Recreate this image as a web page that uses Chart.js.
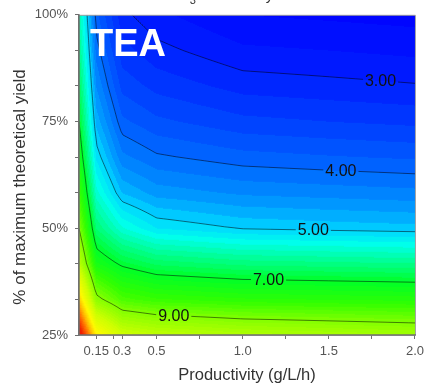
<!DOCTYPE html>
<html>
<head>
<meta charset="utf-8">
<script src="https://cdn.jsdelivr.net/npm/chart.js@4.4.1/dist/chart.umd.min.js"></script>
<style>
  html, body { margin: 0; padding: 0; background: #fff; }
</style>
</head>
<body>
<canvas id="teaChart" width="429" height="387"></canvas>
<script>
// grid nodes
const productivity = [0.05, 0.15, 0.3, 0.5, 1.0, 1.5, 2.0];
const yieldPct = [25, 33.33, 41.67, 50, 58.33, 66.67, 75, 83.33, 91.67, 100];

// cost, one row per yield node (low -> high)
const cost25 = [16.0, 12.2, 10.6, 10.27, 9.95, 9.80, 9.65];
const cost33 = [12.8, 9.24, 8.31, 8.04, 7.85, 7.79, 7.73];
const cost42 = [10.2, 7.47, 6.90, 6.55, 6.34, 6.28, 6.22];
const cost50 = [9.0, 6.40, 5.63, 5.20, 4.98, 4.92, 4.87];
const cost58 = [8.14, 5.69, 4.79, 4.51, 4.36, 4.31, 4.26];
const cost67 = [7.5, 5.16, 4.26, 4.04, 3.88, 3.82, 3.77];
const cost75 = [7.0, 4.73, 3.85, 3.65, 3.46, 3.40, 3.35];
const cost83 = [6.6, 4.39, 3.53, 3.33, 3.12, 3.07, 3.02];
const cost92 = [6.27, 4.11, 3.28, 3.07, 2.84, 2.80, 2.75];
const cost100 = [6.0, 3.87, 3.06, 2.85, 2.60, 2.56, 2.52];
const costRows = [cost25, cost33, cost42, cost50, cost58, cost67, cost75, cost83, cost92, cost100];

const contourLevels = [3, 4, 5, 7, 9];
const labelProductivity = [1.8, 1.57, 1.41, 1.15, 0.6];

const xTickValues = [0.15, 0.25, 0.3, 0.5, 0.75, 1.0, 1.25, 1.5, 1.75, 2.0];
const xTickLabels = ['0.15', '', '0.3', '0.5', '', '1.0', '', '1.5', '', '2.0'];
const yTickLabels = ['25%', '', '', '50%', '', '', '75%', '', '', '100%'];

// colour map: value, r, g, b
const colorStops = [
    [2.4, 0, 0, 255],
    [3.0, 0, 30, 255],
    [4.0, 0, 105, 255],
    [4.6, 0, 160, 255],
    [5.0, 0, 215, 255],
    [5.5, 0, 255, 235],
    [6.2, 0, 255, 140],
    [7.0, 0, 255, 40],
    [8.0, 50, 255, 0],
    [9.0, 130, 255, 0],
    [10.5, 205, 255, 0],
    [12, 255, 250, 0],
    [13, 255, 190, 0],
    [14, 255, 110, 0],
    [15.2, 240, 30, 0]
];
const bandStep = 0.2;
const fontFamily = '"Liberation Sans", Arial, sans-serif';

function findCell(nodes, v) {
    let i = 0;
    while (i < nodes.length - 2 && v > nodes[i + 1]) i++;
    const t = (v - nodes[i]) / (nodes[i + 1] - nodes[i]);
    return [i, Math.max(0, Math.min(1, t))];
}

function costAt(p, y) {
    const [i, tx] = findCell(productivity, p);
    const [j, ty] = findCell(yieldPct, y);
    const a = costRows[j][i], b = costRows[j][i + 1];
    const c = costRows[j + 1][i], d = costRows[j + 1][i + 1];
    return (a * (1 - tx) + b * tx) * (1 - ty) + (c * (1 - tx) + d * tx) * ty;
}

function colorFor(v) {
    const q = (Math.floor(v / bandStep) + 0.5) * bandStep;
    if (q <= colorStops[0][0]) return colorStops[0].slice(1);
    for (let k = 1; k < colorStops.length; k++) {
        if (q <= colorStops[k][0]) {
            const s0 = colorStops[k - 1], s1 = colorStops[k];
            const t = (q - s0[0]) / (s1[0] - s0[0]);
            return [1, 2, 3].map(n => s0[n] + (s1[n] - s0[n]) * t);
        }
    }
    return colorStops[colorStops.length - 1].slice(1);
}

const contourPlugin = {
    id: 'contourFill',
    beforeDatasetsDraw(chart) {
        const { ctx, chartArea: area, scales: { x, y } } = chart;
        const w = Math.round(area.right - area.left);
        const h = Math.round(area.bottom - area.top);

        // filled bands
        const off = document.createElement('canvas');
        off.width = w; off.height = h;
        const octx = off.getContext('2d');
        const img = octx.createImageData(w, h);
        const colP = [], rowY = [];
        for (let i = 0; i < w; i++) colP.push(x.getValueForPixel(area.left + i + 0.5));
        for (let j = 0; j < h; j++) rowY.push(y.getValueForPixel(area.top + j + 0.5));
        for (let j = 0; j < h; j++) {
            for (let i = 0; i < w; i++) {
                const [r, g, b] = colorFor(costAt(colP[i], rowY[j]));
                const idx = (j * w + i) * 4;
                img.data[idx] = r; img.data[idx + 1] = g; img.data[idx + 2] = b; img.data[idx + 3] = 255;
            }
        }
        octx.putImageData(img, 0, 0);
        ctx.drawImage(off, area.left, area.top, w, h);

        // label positions
        ctx.save();
        ctx.font = '16px ' + fontFamily;
        const labels = contourLevels.map((lv, k) => {
            const p = labelProductivity[k];
            let yv = 25;
            for (let t = 25; t <= 100; t += 0.02) {
                if (costAt(p, t) <= lv) { yv = t; break; }
            }
            const text = lv.toFixed(2);
            const px = x.getPixelForValue(p), py = y.getPixelForValue(yv);
            const tw = ctx.measureText(text).width;
            return { text, px, py, box: [px - tw / 2 - 2, py - 8, tw + 4, 16] };
        });

        // contour lines, kept out of the label boxes
        ctx.beginPath();
        ctx.rect(area.left, area.top, w, h);
        labels.forEach(l => ctx.rect(...l.box));
        ctx.clip('evenodd');

        const step = 2;
        const gx = [], gy = [];
        for (let i = 0; i * step < w; i++) gx.push(area.left + i * step);
        gx.push(area.left + w);
        for (let j = 0; j * step < h; j++) gy.push(area.top + j * step);
        gy.push(area.top + h);
        const gp = gx.map(px => x.getValueForPixel(px));
        const vals = gy.map(py => {
            const yv = y.getValueForPixel(py);
            return gp.map(p => costAt(p, yv));
        });

        ctx.beginPath();
        contourLevels.forEach(lv => {
            for (let j = 0; j < gy.length - 1; j++) {
                for (let i = 0; i < gx.length - 1; i++) {
                    const c = [
                        [gx[i], gy[j], vals[j][i]],
                        [gx[i + 1], gy[j], vals[j][i + 1]],
                        [gx[i + 1], gy[j + 1], vals[j + 1][i + 1]],
                        [gx[i], gy[j + 1], vals[j + 1][i]]
                    ];
                    const pts = [];
                    for (let e = 0; e < 4; e++) {
                        const a = c[e], b = c[(e + 1) % 4];
                        if ((a[2] < lv) !== (b[2] < lv)) {
                            const t = (lv - a[2]) / (b[2] - a[2]);
                            pts.push([a[0] + (b[0] - a[0]) * t, a[1] + (b[1] - a[1]) * t]);
                        }
                    }
                    for (let k = 0; k + 1 < pts.length; k += 2) {
                        ctx.moveTo(pts[k][0], pts[k][1]);
                        ctx.lineTo(pts[k + 1][0], pts[k + 1][1]);
                    }
                }
            }
        });
        ctx.strokeStyle = 'rgba(0, 0, 0, 0.5)';
        ctx.lineWidth = 1;
        ctx.stroke();
        ctx.restore();

        ctx.save();
        ctx.font = '16px ' + fontFamily;
        ctx.fillStyle = '#111';
        ctx.textAlign = 'center';
        ctx.textBaseline = 'middle';
        labels.forEach(l => ctx.fillText(l.text, l.px, l.py + 1));
        ctx.restore();
    },
    afterDraw(chart) {
        const { ctx, chartArea: area } = chart;
        ctx.save();
        // frame
        ctx.strokeStyle = '#a0a0a0';
        ctx.lineWidth = 1;
        ctx.beginPath();
        ctx.moveTo(area.left, area.top + 0.5);
        ctx.lineTo(area.right + 0.5, area.top + 0.5);
        ctx.lineTo(area.right + 0.5, area.bottom);
        ctx.stroke();
        ctx.strokeStyle = '#707070';
        ctx.lineWidth = 1.5;
        ctx.beginPath();
        ctx.moveTo(area.left, area.top);
        ctx.lineTo(area.left, area.bottom);
        ctx.lineTo(area.right + 1, area.bottom);
        ctx.stroke();

        // TEA tag
        ctx.fillStyle = '#fff';
        ctx.font = 'bold 38px ' + fontFamily;
        ctx.textBaseline = 'alphabetic';
        ctx.fillText('TEA', area.left + 11, area.top + 41);

        // y title
        ctx.fillStyle = '#333';
        ctx.font = '17px ' + fontFamily;
        ctx.textAlign = 'center';
        ctx.textBaseline = 'middle';
        ctx.translate(20, 187);
        ctx.rotate(-Math.PI / 2);
        ctx.fillText('% of maximum theoretical yield', 0, 0);
        ctx.restore();

        // clipped chart title at the very top
        ctx.save();
        ctx.fillStyle = '#333';
        ctx.textBaseline = 'alphabetic';
        ctx.font = '15px ' + fontFamily;
        let tx = 168;
        ctx.fillText('CH', tx, 0);
        tx += ctx.measureText('CH').width;
        ctx.font = '11px ' + fontFamily;
        ctx.fillText('3', tx, 4);
        tx += ctx.measureText('3').width;
        ctx.font = '15px ' + fontFamily;
        ctx.fillText('OH Cost by Yield', tx, 0);
        ctx.restore();
    }
};

Chart.defaults.font.family = fontFamily;

new Chart(document.getElementById('teaChart'), {
    type: 'scatter',
    data: { datasets: [{ data: [], pointRadius: 0 }] },
    options: {
        responsive: false,
        animation: false,
        layout: { padding: { top: 10, right: 11, left: 0, bottom: 0 } },
        plugins: {
            legend: { display: false },
            tooltip: { enabled: false }
        },
        scales: {
            x: {
                type: 'linear',
                min: 0.05,
                max: 2.0,
                afterBuildTicks: s => { s.ticks = xTickValues.map(v => ({ value: v })); },
                afterFit: s => { s.height = 52; },
                ticks: {
                    autoSkip: false,
                    maxRotation: 0,
                    padding: 5,
                    color: '#555',
                    font: { size: 13 },
                    callback: (v, i) => xTickLabels[i]
                },
                grid: { drawOnChartArea: false, tickLength: 4, color: '#707070' },
                border: { color: '#707070', width: 1.5 },
                title: {
                    display: true,
                    text: 'Productivity (g/L/h)',
                    color: '#333',
                    font: { size: 16.5 },
                    padding: { top: 0, bottom: 2 }
                }
            },
            y: {
                type: 'linear',
                min: 25,
                max: 100,
                afterBuildTicks: s => { s.ticks = yieldPct.map(v => ({ value: v })); },
                afterFit: s => { s.width = 79; },
                ticks: {
                    autoSkip: false,
                    padding: 7,
                    color: '#555',
                    font: { size: 13 },
                    callback: (v, i) => yTickLabels[i]
                },
                grid: { drawOnChartArea: false, tickLength: 4, color: '#707070' },
                border: { color: '#707070', width: 1.5 }
            }
        }
    },
    plugins: [contourPlugin]
});
</script>
</body>
</html>
